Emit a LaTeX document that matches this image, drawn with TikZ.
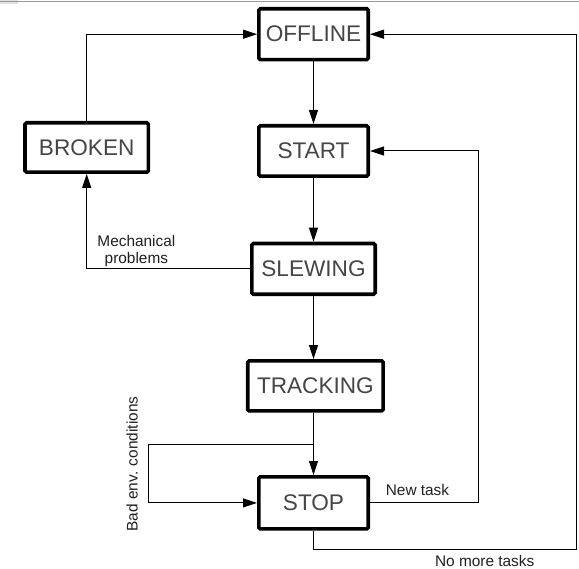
\documentclass[tikz,border=0pt]{standalone}
\usepackage{fontspec}
\setmainfont{Liberation Sans}
\usetikzlibrary{arrows.meta}
\begin{document}
\begin{tikzpicture}[x=1pt,y=-1pt,
  state/.style={draw=black, line width=3.6pt, rounded corners=1.5pt, fill=white,
    inner sep=0pt, font=\fontsize{22.6}{26}\selectfont, text=black!73},
  arr/.style={-{Triangle[length=14pt,width=9pt]}, line width=1pt, black},
  lbl/.style={font=\fontsize{15.4}{16.8}\selectfont, text=black!88, inner sep=0pt}]
\useasboundingbox (0,0) rectangle (579,569);
% window edge at the top
\fill[black!12] (0,0) rectangle (18,4);
\draw[black!40, line width=1.2pt] (0,1.5) -- (579,1.5);

% states
\node[state, minimum width=109.4pt, minimum height=50.9pt] (offline)  at (313.5,34.2)  {OFFLINE};
\node[state, minimum width=109.4pt, minimum height=50.4pt] (start)    at (313.5,151)   {START};
\node[state, minimum width=123.4pt, minimum height=49.4pt] (broken)   at (86.7,147.5)  {BROKEN};
\node[state, minimum width=123.4pt, minimum height=50.7pt] (slewing)  at (313.5,268.9) {SLEWING};
\node[state, minimum width=135.4pt, minimum height=50.1pt] (tracking) at (315.4,385.9) {TRACKING};
\node[state, minimum width=109.4pt, minimum height=52.1pt] (stop)     at (313.5,502.9) {STOP};

% helper points for the routed connectors
\coordinate (split) at (313.5,444.3);
\coordinate (loopc) at (148.4,444.3);
\coordinate (newc)  at (478.6,502.9);
\coordinate (nmc)   at (576.7,549);

% transitions
\draw[arr] (broken.north) |- (offline.west);
\draw[arr] (offline.south) -- (start.north);
\draw[arr] (start.south) -- (slewing.north);
\draw[arr] (slewing.west) -| (broken.south);
\draw[arr] (slewing.south) -- (slewing.south |- tracking.north);
\draw[arr] (stop.north |- tracking.south) -- (stop.north);
\draw[arr] (split) -- (loopc) |- (stop.west);
\draw[arr] (stop.east) -- (newc) |- (start.east);
\draw[arr] (stop.south) |- (nmc) |- (offline.east);

% transition labels
\node[lbl, align=center] (mech) at (136.4,250.9) {Mechanical\\problems};
\node[lbl, rotate=90] (bad) at (132,464) {Bad env. conditions};
\node[lbl] (newtask) at (417.5,489.5) {New task};
\node[lbl] (nomore) at (484.7,561) {No more tasks};
\end{tikzpicture}
\end{document}
